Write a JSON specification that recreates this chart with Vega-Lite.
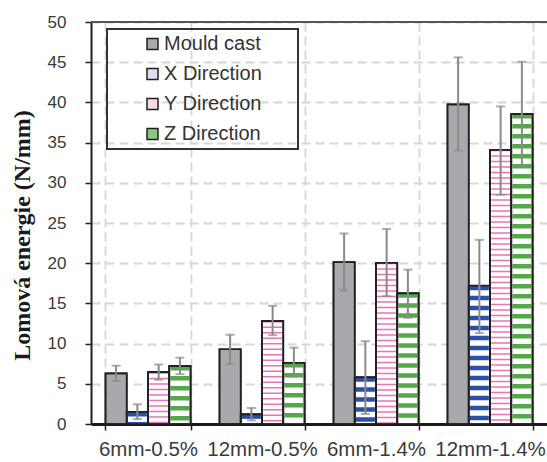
{
  "$schema": "https://vega.github.io/schema/vega-lite/v6.json",
  "autosize": "none",
  "width": 456,
  "height": 402,
  "padding": {"left": 91, "top": 22, "right": 0, "bottom": 38},
  "background": "white",
  "data": {
    "values": [
      {"group": "6mm-0.5%", "series": "Mould cast", "value": 6.3, "lo": 5.35, "hi": 7.25},
      {"group": "6mm-0.5%", "series": "X Direction", "value": 1.5, "lo": 0.6, "hi": 2.45},
      {"group": "6mm-0.5%", "series": "Y Direction", "value": 6.45, "lo": 5.5, "hi": 7.4},
      {"group": "6mm-0.5%", "series": "Z Direction", "value": 7.2, "lo": 6.2, "hi": 8.25},
      {"group": "12mm-0.5%", "series": "Mould cast", "value": 9.3, "lo": 7.45, "hi": 11.1},
      {"group": "12mm-0.5%", "series": "X Direction", "value": 1.2, "lo": 0.45, "hi": 2.0},
      {"group": "12mm-0.5%", "series": "Y Direction", "value": 12.8, "lo": 11.05, "hi": 14.7},
      {"group": "12mm-0.5%", "series": "Z Direction", "value": 7.6, "lo": 5.9, "hi": 9.5},
      {"group": "6mm-1.4%", "series": "Mould cast", "value": 20.15, "lo": 16.6, "hi": 23.7},
      {"group": "6mm-1.4%", "series": "X Direction", "value": 5.8, "lo": 1.25, "hi": 10.3},
      {"group": "6mm-1.4%", "series": "Y Direction", "value": 20.05, "lo": 15.9, "hi": 24.25},
      {"group": "6mm-1.4%", "series": "Z Direction", "value": 16.25, "lo": 13.2, "hi": 19.2},
      {"group": "12mm-1.4%", "series": "Mould cast", "value": 39.75, "lo": 34.0, "hi": 45.6},
      {"group": "12mm-1.4%", "series": "X Direction", "value": 17.2, "lo": 11.3, "hi": 22.9},
      {"group": "12mm-1.4%", "series": "Y Direction", "value": 34.1, "lo": 28.5, "hi": 39.5},
      {"group": "12mm-1.4%", "series": "Z Direction", "value": 38.55, "lo": 32.1, "hi": 45.05}
    ]
  },
  "layer": [
    {
      "encoding": {
        "x": {
          "field": "group", "type": "nominal", "sort": null, "title": null,
          "scale": {"paddingInner": 0.254, "paddingOuter": 0.127},
          "axis": {
            "labelAngle": 0, "labelFontSize": 20.5, "labelPadding": 9, "tickBand": "extent",
            "tickSize": 6, "tickWidth": 1.5, "domainWidth": 3, "domainColor": "#1a1a1a",
            "grid": true
          }
        },
        "xOffset": {"field": "series", "type": "nominal", "sort": null, "scale": {"paddingInner": 0, "paddingOuter": 0}}
      },
      "layer": [
        {
          "mark": {"type": "bar", "stroke": "#231f20", "strokeWidth": 1.6},
          "encoding": {
            "y": {
              "field": "value", "type": "quantitative", "stack": null,
              "scale": {"domain": [0, 50], "nice": false},
              "title": "Lomová energie (N/mm)",
              "axis": {
                "values": [0, 5, 10, 15, 20, 25, 30, 35, 40, 45, 50],
                "labelFontSize": 17, "labelPadding": 19, "tickSize": 6, "tickWidth": 1.5,
                "domainWidth": 2, "domainColor": "#231f20",
                "titleFont": "Liberation Serif", "titleFontWeight": "bold", "titleFontSize": 24,
                "titleColor": "#1a1a1a", "titleAngle": -90, "titleX": -69, "titleY": 213,
                "titleAlign": "center", "titleBaseline": "middle"
              }
            },
            "fill": {
              "field": "series", "type": "nominal", "sort": null,
              "scale": {"domain": ["Mould cast", "X Direction", "Y Direction", "Z Direction"], "range": ["#a7a9ac", "#d9e0f2", "#f6d9e8", "#8cc780"]},
              "legend": {
                "title": "MMM", "titleOrient": "right", "titleColor": "rgba(0,0,0,0)", "titleFontSize": 10, "titlePadding": 6
              }
            }
          }
        },
        {
          "transform": [{"filter": "datum.series !== 'Mould cast'"}],
          "mark": {"type": "bar", "fill": "#ffffff", "stroke": "#231f20", "strokeWidth": 1.6},
          "encoding": {"y": {"field": "value", "type": "quantitative", "stack": null}}
        },
        {
          "transform": [{"filter": "datum.series === 'X Direction'"}],
          "mark": {"type": "rule", "stroke": "#2b4fa8", "strokeWidth": 19, "strokeDash": [4.5, 5.5], "strokeCap": "butt"},
          "encoding": {"y": {"field": "value", "type": "quantitative"}, "y2": {"datum": 0}}
        },
        {
          "transform": [{"filter": "datum.series === 'Y Direction'"}],
          "mark": {"type": "rule", "stroke": "#e0469b", "strokeWidth": 19, "strokeDash": [1.5, 4], "strokeCap": "butt", "strokeOpacity": 0.75},
          "encoding": {"y": {"field": "value", "type": "quantitative"}, "y2": {"datum": 0}}
        },
        {
          "transform": [{"filter": "datum.series === 'Z Direction'"}],
          "mark": {"type": "rule", "stroke": "#55a84a", "strokeWidth": 19, "strokeDash": [4.5, 5.5], "strokeCap": "butt"},
          "encoding": {"y": {"field": "value", "type": "quantitative"}, "y2": {"datum": 0}}
        },
        {
          "mark": {"type": "bar", "fill": "transparent", "stroke": "#231f20", "strokeWidth": 1.7},
          "encoding": {"y": {"field": "value", "type": "quantitative", "stack": null}}
        },
        {
          "mark": {"type": "rule", "stroke": "#8a8a8a", "strokeWidth": 2},
          "encoding": {"y": {"field": "lo", "type": "quantitative"}, "y2": {"field": "hi"}}
        },
        {
          "mark": {"type": "tick", "color": "#8a8a8a", "size": 9, "thickness": 2, "orient": "horizontal"},
          "encoding": {"y": {"field": "lo", "type": "quantitative"}}
        },
        {
          "mark": {"type": "tick", "color": "#8a8a8a", "size": 9, "thickness": 2, "orient": "horizontal"},
          "encoding": {"y": {"field": "hi", "type": "quantitative"}}
        }
      ]
    },
    {
      "mark": {"type": "rule", "stroke": "#555555", "strokeWidth": 2},
      "encoding": {"y": {"datum": 50}}
    }
  ],
  "config": {
    "view": {"stroke": null},
    "font": "Liberation Sans",
    "axis": {
      "gridColor": "#d6d6d6", "gridDash": [9, 5], "gridWidth": 1.8,
      "tickColor": "#231f20", "labelColor": "#3a3a3a", "labelFont": "Liberation Sans"
    },
    "legend": {
      "orient": "none", "legendX": 16, "legendY": 7,
      "labelFontSize": 20, "labelColor": "#333333", "labelFont": "Liberation Sans",
      "symbolType": "square", "symbolSize": 121, "symbolStrokeColor": "#231f20", "symbolStrokeWidth": 1.5,
      "rowPadding": 10, "padding": 5, "symbolOffset": 30.5, "labelOffset": 1.5,
      "strokeColor": "#333333", "strokeWidth": 2
    }
  }
}
